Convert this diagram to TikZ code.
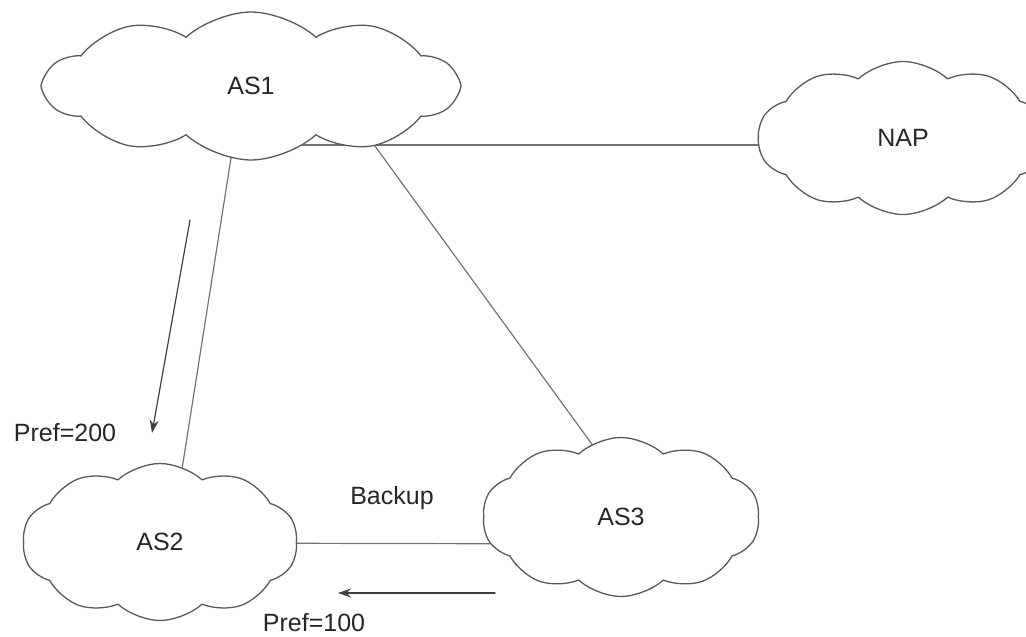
\documentclass[tikz,border=0pt]{standalone}
\usepackage{fontspec}
\setmainfont{Liberation Sans}
\usetikzlibrary{shapes.symbols,arrows.meta,backgrounds}

\tikzset{
  asnet/.style={cloud, cloud puffs=10, cloud puff arc=85, draw=black!65, line width=1.3pt,
    fill=white, inner sep=0pt, font=\fontsize{25}{30}\selectfont, text=black!85},
  link/.style={draw=black!55, line width=1.2pt},
  prefarrow/.style={draw=black!75, line width=1.2pt, -{Stealth[length=13pt,width=9pt]}},
  preftext/.style={inner sep=0pt, font=\fontsize{25}{30}\selectfont, text=black!85}
}

\begin{document}
\begin{tikzpicture}[x=1pt, y=-1pt, line cap=round, line join=round]

  %% ════ 云（AS / NAP）════
  \node[asnet, minimum width=412, minimum height=148] (as1) at (251,86) {AS1};
  \node[asnet, minimum width=290, minimum height=153] (nap) at (903,138) {NAP};
  \node[asnet, minimum width=275, minimum height=157] (as2) at (160,542) {AS2};
  \node[asnet, minimum width=277, minimum height=159] (as3) at (621,517) {AS3};

  %% ════ 连线（放在背景层，被云的白底遮住）════
  \begin{scope}[on background layer]
    \draw[link] ([yshift=-59pt]as1.center) -- ([yshift=-7pt]nap.center);
    \draw[link] ([xshift=-14pt,yshift=-34pt]as1.center) -- ([xshift=14pt,yshift=22pt]as2.center);
    \draw[link] ([xshift=105pt,yshift=-34pt]as1.center) -- ([xshift=-3pt,yshift=37pt]as3.center);
    \draw[link] ([yshift=-1pt]as2.center) -- ([yshift=-27pt]as3.center);
  \end{scope}

  %% ════ 箭头 ════
  \coordinate (p200from) at (190,220);
  \coordinate (p200to) at (152,433);
  \coordinate (p100from) at (495,593);
  \coordinate (p100to) at (338,593);
  \draw[prefarrow] (p200from) -- (p200to);
  \draw[prefarrow] (p100from) -- (p100to);

  %% ════ 标签 ════
  \node[preftext] (pref200) at (65,433) {Pref=200};
  \node[preftext] (backup) at (392,498) {Backup};
  \node[preftext] (pref100) at (314,623) {Pref=100};

  % 钉死画布
  \pgfresetboundingbox
  \path[use as bounding box] (0,0) rectangle (1026,637);
\end{tikzpicture}
\end{document}
